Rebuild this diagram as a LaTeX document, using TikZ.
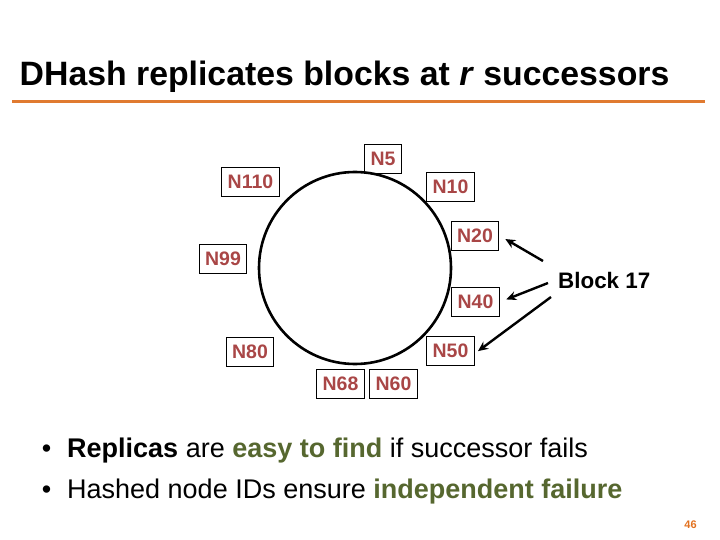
\documentclass[tikz,border=0pt]{standalone}
\usepackage{fontspec}
\setmainfont{Liberation Sans}
\usetikzlibrary{arrows.meta}
\definecolor{rorange}{HTML}{E07A30}
\definecolor{rred}{HTML}{A94646}
\definecolor{rgreen}{HTML}{56672F}
\definecolor{rpage}{HTML}{E2711F}

\tikzset{
  idbox/.style={draw, line width=0.8pt, text=rred, inner xsep=6pt, inner ysep=0pt,
    minimum height=29pt, font=\fontsize{19.5}{22}\selectfont\bfseries},
  blkarrow/.style={-{Stealth[length=10pt,width=9pt]}, line width=2.4pt, shorten >=7pt},
  bullettext/.style={anchor=base west, inner sep=0pt, font=\fontsize{27}{32}\selectfont}
}

\begin{document}
\begin{tikzpicture}[x=1pt, y=-1pt]
 \useasboundingbox (0,0) rectangle (720,540);
 % title and rule
 \node[anchor=base west, inner sep=0pt, font=\fontsize{33.8}{40}\selectfont\bfseries] (title) at (19.5,86)
   {DHash replicates blocks at \textit{r} successors};
 \draw[rorange, line width=3pt] (12,102) -- (705,102);
 % the ring
 \draw[line width=2.6pt] (355,268) circle[radius=96pt];
 \node[idbox] (n5) at (383,158.5) {N5};
 \node[idbox] (n110) at (250.5,181.5) {N110};
 \node[idbox] (n10) at (450.5,187) {N10};
 \node[idbox] (n20) at (475,235.5) {N20};
 \node[idbox] (n99) at (223,259) {N99};
 \node[idbox] (n40) at (475.5,302) {N40};
 \node[idbox] (n80) at (250,351.5) {N80};
 \node[idbox] (n50) at (450.5,350.5) {N50};
 \node[idbox] (n68) at (340.5,384) {N68};
 \node[idbox] (n60) at (393.5,384) {N60};
 % the block and its replicas
 \node[anchor=base west, inner sep=0pt, font=\fontsize{22.4}{26}\selectfont\bfseries] (blk) at (558,288) {Block 17};
 \coordinate (s20) at (543,261);
 \coordinate (s40) at (548,283);
 \coordinate (s50) at (551,297);
 \draw[blkarrow] (s20) -- (n20.east);
 \draw[blkarrow] (s40) -- (n40.east);
 \draw[blkarrow, shorten >=4pt] (s50) -- ([yshift=-3pt]n50.east);
 % bullets
 \node[anchor=base, inner sep=0pt, font=\fontsize{27}{32}\selectfont] (b1) at (46.5,457) {•};
 \node[bullettext] (t1) at (67,457)
   {\textbf{Replicas} are \textbf{\textcolor{rgreen}{easy to find}} if successor fails};
 \node[anchor=base, inner sep=0pt, font=\fontsize{27}{32}\selectfont] (b2) at (46.5,498) {•};
 \node[bullettext] (t2) at (67,498)
   {Hashed node IDs ensure \textbf{\textcolor{rgreen}{independent failure}}};
 \node[text=rpage, inner sep=0pt, font=\fontsize{11}{13}\selectfont\bfseries] (pg) at (690.5,524.5) {46};
\end{tikzpicture}
\end{document}
